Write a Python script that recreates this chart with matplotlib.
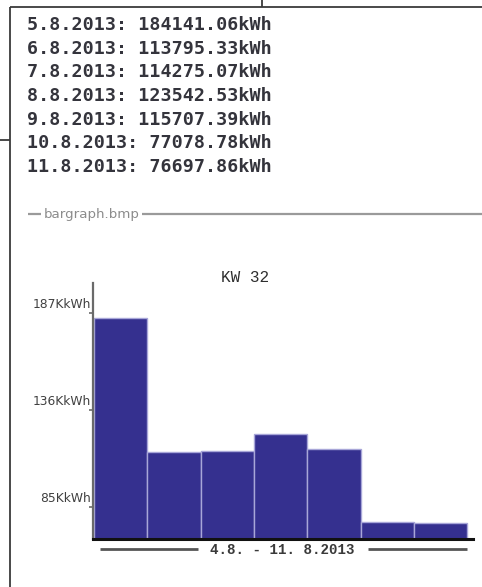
import matplotlib
matplotlib.use("Agg")
import matplotlib.pyplot as plt
from matplotlib.lines import Line2D
from matplotlib.transforms import ScaledTranslation, blended_transform_factory

# ---- data ----
dates = ["5.8.2013", "6.8.2013", "7.8.2013", "8.8.2013", "9.8.2013", "10.8.2013", "11.8.2013"]
values_kwh = [184141.06, 113795.33, 114275.07, 123542.53, 115707.39, 77078.78, 76697.86]
ytick_values = [187, 136, 85]
ytick_labels = ["187KkWh", "136KkWh", "85KkWh"]
title = "KW 32"
range_label = "4.8. - 11. 8.2013"
file_label = "bargraph.bmp"

W, H = 482, 587
DPI = 100
fig = plt.figure(figsize=(W / DPI, H / DPI), dpi=DPI)
fig.patch.set_facecolor("white")


def fx(x):
    return x / W


def fy(y):
    return 1 - y / H


def hline(x0, x1, y, color, lw):
    fig.add_artist(Line2D([fx(x0), fx(x1)], [fy(y), fy(y)], color=color, lw=lw,
                          transform=fig.transFigure, solid_capstyle="butt"))


def vline(x, y0, y1, color, lw):
    fig.add_artist(Line2D([fx(x), fx(x)], [fy(y0), fy(y1)], color=color, lw=lw,
                          transform=fig.transFigure, solid_capstyle="butt"))


# ---- window frame ----
hline(9.5, W, 6.5, "#3a3a3a", 1.3)
vline(9.5, 6.5, H, "#3a3a3a", 1.3)
vline(262, 0, 6.5, "#3a3a3a", 1.3)
hline(0, 9.5, 139.5, "#3a3a3a", 1.3)

# ---- text listing ----
for i, (d, v) in enumerate(zip(dates, values_kwh)):
    fig.text(fx(27), fy(25 + i * 23.7), f"{d}: {v:.2f}kWh", family="DejaVu Sans Mono",
             fontsize=13.2, weight="bold", color="#34343c", va="center", ha="left")

# ---- file label separator ----
hline(28, 41, 213.5, "#9a9a9a", 1.6)
fig.text(fx(44), fy(214), file_label, family="DejaVu Sans", fontsize=9.6,
         color="#8c8c8c", va="center", ha="left")
hline(142, W, 213.5, "#9a9a9a", 1.6)

# ---- bar chart ----
ax_left, ax_right, ax_top, ax_bottom = 93, 473, 283, 539
ax = fig.add_axes([fx(ax_left), fy(ax_bottom), fx(ax_right - ax_left), (ax_bottom - ax_top) / H])
ax.set_facecolor("none")

vals_k = [v / 1000 for v in values_kwh]
xs = list(range(len(vals_k)))
ax.bar(xs, vals_k, width=1.0, align="edge", color="#35308f", edgecolor="#a8a6d8",
       linewidth=1.0, zorder=2)
ax.set_xlim(-0.019, 7.11)
ax.set_ylim(68.2, 202.8)

for s in ["top", "right"]:
    ax.spines[s].set_visible(False)
ax.spines["left"].set_color("#6a6a6a")
ax.spines["left"].set_linewidth(1.6)
ax.spines["bottom"].set_color("#111111")
ax.spines["bottom"].set_linewidth(2.2)
ax.spines["bottom"].set_zorder(3)
ax.set_xticks([])
ax.set_yticks(ytick_values)
ax.set_yticklabels([])
ax.tick_params(axis="y", direction="out", length=3, width=1.2, color="#6a6a6a")

trans = blended_transform_factory(ax.transAxes, ax.transData) + \
    ScaledTranslation(-2 / DPI, 9 / DPI, fig.dpi_scale_trans)
for v, lab in zip(ytick_values, ytick_labels):
    ax.text(0, v, lab, transform=trans, ha="right", va="center", fontsize=8.8,
            family="DejaVu Sans", color="#404040")

# title
fig.text(fx(245), fy(278), title, family="Liberation Mono", fontsize=11.5,
         color="#2e2e2e", ha="center", va="center")

# range label with lines
hline(100, 198, 549, "#555555", 2.0)
fig.text(fx(282), fy(550), range_label, family="Liberation Mono", fontsize=10.2,
         weight="bold", color="#3a3a3a", ha="center", va="center")
hline(368, 467, 549, "#555555", 2.0)

fig.savefig("out.png", dpi=DPI, facecolor="white")
